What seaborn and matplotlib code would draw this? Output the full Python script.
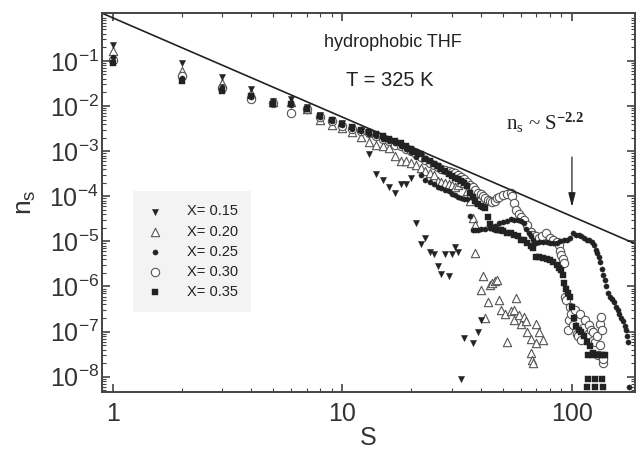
import numpy as np
import pandas as pd
import matplotlib
matplotlib.use("Agg")
import matplotlib.pyplot as plt
from matplotlib.ticker import FixedLocator, LogLocator, LogFormatterSciNotation, NullFormatter
import seaborn as sns

# ---------------- data ----------------
S15 = [1, 2, 3, 4, 5, 6, 7, 8, 9, 10, 11, 12, 13, 14, 15, 16, 17, 18, 19, 20,
       21, 22, 23, 24, 25, 26, 27, 28, 29, 30, 31, 32, 33, 34, 37, 39, 40]
n15 = [0.23, 0.09, 0.044, 0.024, 0.013, 0.014, 0.0095, 0.0062, 0.0049, 0.0041,
       0.0033, 0.0028, 8.5e-4, 3.1e-4, 2.3e-4, 1.6e-4, 1.2e-4, 1.9e-4, 1.9e-4, 2.6e-4,
       2.5e-5, 8.7e-6, 1.2e-5, 5.9e-6, 5.2e-6, 2.8e-6, 1.9e-6, 5.3e-6, 1.7e-6, 5.2e-6,
       7.4e-6, 5.9e-6, 9e-9, 7.3e-8, 5.5e-8, 1.0e-7, 1.8e-7]

S20 = [1, 2, 3, 4, 5, 6, 7, 8, 9, 10, 11, 12, 13, 14, 15, 16, 17, 18, 19, 20,
       21, 22, 23, 24, 25, 26, 27, 28, 29, 30, 31, 32, 33, 34, 35, 36, 37, 38, 38, 40,
       41, 42, 43, 44, 45, 46, 47, 48, 49, 51, 52, 54, 56, 56, 57, 59, 60, 62, 63, 64,
       66, 66, 67, 68, 70, 70, 72, 75]
n20 = [0.17, 0.06, 0.033, 0.019, 0.012, 0.012, 0.0088, 0.0050, 0.0038, 0.0032,
       0.0027, 0.0021, 0.0016, 0.0014, 0.0013, 0.0012, 8.0e-4, 6.2e-4, 6.0e-4, 5.5e-4,
       5.0e-4, 4.2e-4, 3.7e-4, 3.3e-4, 3.0e-4, 2.2e-4, 2.1e-4, 2.0e-4, 1.9e-4, 1.8e-4,
       1.6e-4, 1.8e-4, 2.1e-4, 2.0e-4, 1.3e-4, 8.0e-5, 3.3e-5, 2.3e-5, 5.5e-6, 8.3e-7,
       1.7e-6, 2.0e-7, 4.6e-7, 1.1e-6, 1.2e-6, 1.3e-6, 1.4e-6, 4.9e-7, 3.0e-7, 2.5e-7,
       6.0e-8, 2.8e-7, 3.0e-7, 1.8e-7, 5.6e-7, 2.3e-7, 1.5e-7, 2.1e-7, 1.7e-7, 1.0e-7,
       7.0e-8, 3.3e-8, 2.3e-8, 2.0e-8, 1.5e-7, 5.6e-8, 1.0e-7, 6.5e-8]

S25 = [1, 2, 3, 4, 5, 6, 7, 8, 9, 10, 11, 12, 13, 14, 15, 16, 17, 18, 19, 20,
       21, 22, 23, 24, 25, 26, 27, 28, 29, 30, 31, 32, 33, 34, 35, 36, 37, 38, 39, 40,
       42, 44, 46, 48, 50, 52, 54, 56, 58, 60, 62, 63, 65, 66, 68, 70, 72, 75, 78, 80,
       83, 86, 89, 92, 95, 98, 101, 104, 107, 110, 113, 116, 119, 122, 125, 127, 129, 131, 133, 135,
       137, 139, 141, 143, 146, 149, 152, 155, 158, 161, 164, 167, 170, 172, 174, 176, 178]
n25 = [0.12, 0.042, 0.026, 0.016, 0.0115, 0.0105, 0.0085, 0.0056, 0.0046, 0.0038,
       0.0031, 0.0028, 0.0024, 0.0022, 0.0019, 0.0017, 0.0015, 0.0013, 0.0011, 9.5e-4,
       7.5e-4, 3.0e-4, 2.3e-4, 2.1e-4, 1.9e-4, 1.6e-4, 1.5e-4, 1.4e-4, 1.3e-4, 1.1e-4,
       1.05e-4, 9.6e-5, 9.2e-5, 8.8e-5, 8.6e-5, 3.6e-5, 1.8e-5, 1.8e-5, 1.8e-5, 1.9e-5,
       1.9e-5, 2.0e-5, 2.2e-5, 2.5e-5, 2.7e-5, 2.9e-5, 3.1e-5, 3.0e-5, 3.0e-5, 2.9e-5,
       2.6e-5, 1.9e-5, 1.5e-5, 1.3e-5, 1.1e-5, 9.3e-6, 9.7e-6, 9.8e-6, 9.5e-6, 9.0e-6,
       9.2e-6, 9.3e-6, 1.0e-5, 1.07e-5, 1.1e-5, 1.2e-5, 1.5e-5, 1.4e-5, 1.4e-5, 1.3e-5,
       1.2e-5, 1.1e-5, 1.05e-5, 9.8e-6, 8.5e-6, 6.5e-6, 5.5e-6, 4.6e-6, 3.5e-6, 2.5e-6,
       1.8e-6, 1.4e-6, 1.05e-6, 7.0e-7, 6.0e-7, 5.2e-7, 4.5e-7, 3.5e-7, 3.0e-7, 2.5e-7,
       2.0e-7, 1.7e-7, 1.3e-7, 1.1e-7, 8.0e-8, 6.0e-8, 6.0e-9]

S30 = [1, 2, 3, 4, 5, 6, 7, 8, 9, 10, 11, 12, 13, 14, 15, 16, 17, 18, 19, 20,
       21, 22, 23, 24, 25, 26, 27, 28, 29, 30, 31, 32, 33, 34, 35, 36, 37, 38, 39, 40,
       41, 42, 43, 44, 45, 46, 47, 48, 50, 52, 54, 55, 56, 57, 59, 60, 62, 64, 66, 68,
       70, 72, 74, 77, 80, 83, 86, 88, 89, 90, 91, 92, 93, 94, 96, 97, 98, 99, 101, 103,
       105, 106, 108, 110, 112, 114, 117, 119, 121, 123, 126, 129, 130, 132, 133, 134, 135, 136, 137]
n30 = [0.105, 0.047, 0.025, 0.014, 0.0115, 0.0070, 0.0085, 0.0057, 0.0046, 0.0037,
       0.0031, 0.0028, 0.0025, 0.0022, 0.0019, 0.0017, 0.0014, 0.0013, 0.0011, 0.0010,
       8.5e-4, 7.5e-4, 6.5e-4, 5.5e-4, 5.0e-4, 4.5e-4, 4.0e-4, 3.8e-4, 3.6e-4, 3.4e-4,
       3.3e-4, 3.0e-4, 2.7e-4, 2.4e-4, 2.1e-4, 1.8e-4, 1.6e-4, 1.4e-4, 1.2e-4, 1.1e-4,
       1.0e-4, 9.0e-5, 8.2e-5, 7.8e-5, 7.6e-5, 8.0e-5, 9.0e-5, 9.8e-5, 1.05e-4, 1.1e-4,
       1.17e-4, 1.0e-4, 7.0e-5, 5.0e-5, 4.0e-5, 3.5e-5, 3.0e-5, 2.3e-5, 1.6e-5, 1.4e-5,
       1.3e-5, 1.2e-5, 1.3e-5, 1.5e-5, 1.2e-5, 1.07e-5, 9.5e-6, 8.3e-6, 6.0e-6, 5.0e-6,
       4.0e-6, 3.3e-6, 5.9e-7, 5.0e-7, 1.1e-7, 1.8e-7, 3.5e-7, 2.5e-7, 1.4e-7, 3.0e-7,
       9.0e-8, 7.8e-8, 2.5e-7, 6.5e-8, 1.2e-7, 1.8e-7, 9.0e-8, 1.4e-7, 1.1e-7, 1.0e-7,
       6.0e-8, 7.8e-8, 3.0e-8, 5.0e-8, 1.5e-7, 2.1e-7, 1.1e-7, 2.0e-8, 2.5e-8]

S35 = [1, 2, 3, 4, 5, 6, 7, 8, 9, 10, 11, 12, 13, 14, 15, 16, 17, 18, 19, 20,
       21, 22, 23, 24, 25, 26, 27, 28, 29, 30, 31, 32, 33, 34, 35, 36, 37, 38, 39, 40,
       41, 42, 43, 44, 45, 46, 47, 48, 49, 50, 52, 54, 56, 58, 60, 62, 64, 66, 68, 70,
       72, 75, 78, 80, 83, 86, 88, 90, 91, 92, 94, 96, 98, 100, 102, 104, 107, 110, 113, 116,
       120, 124, 118, 122, 128, 132, 136, 139, 117, 126, 135, 116, 126, 137]
n35 = [0.09, 0.036, 0.021, 0.017, 0.011, 0.011, 0.0088, 0.0060, 0.0048, 0.0040,
       0.0034, 0.0030, 0.0027, 0.0024, 0.0022, 0.0019, 0.0017, 0.0015, 0.00128, 0.00112,
       9.5e-4, 8.5e-4, 6.8e-4, 6.0e-4, 5.2e-4, 4.6e-4, 4.1e-4, 3.6e-4, 3.1e-4, 2.8e-4,
       2.6e-4, 2.4e-4, 2.2e-4, 2.0e-4, 1.7e-4, 1.2e-4, 9.5e-5, 8.0e-5, 6.9e-5, 6.2e-5,
       5.8e-5, 5.4e-5, 3.5e-5, 2.4e-5, 2.0e-5, 1.9e-5, 1.8e-5, 1.8e-5, 1.8e-5, 1.7e-5,
       1.5e-5, 1.5e-5, 1.4e-5, 1.3e-5, 1.1e-5, 1.07e-5, 9.0e-6, 8.0e-6, 7.0e-6, 4.6e-6,
       4.4e-6, 4.2e-6, 4.0e-6, 3.9e-6, 3.5e-6, 3.0e-6, 2.6e-6, 2.3e-6, 1.8e-6, 1.2e-6,
       9.0e-7, 7.0e-7, 5.9e-7, 3.5e-7, 2.0e-7, 1.3e-7, 1.1e-7, 1.0e-7, 7.8e-8, 6.0e-8,
       4.7e-8, 3.3e-8, 3.0e-8, 3.0e-8, 3.0e-8, 3.0e-8, 3.0e-8, 3.0e-8, 9e-9, 9e-9,
       9e-9, 5.9e-9, 5.9e-9, 5.9e-9]

series_labels = ["X= 0.15", "X= 0.20", "X= 0.25", "X= 0.30", "X= 0.35"]
line_exponent = -2.2
line_prefactor = 0.9
arrow_S = 100
x_ticks = [1, 10, 100]
x_ticklabels = ["1", "10", "100"]
y_ticks = [1e-8, 1e-7, 1e-6, 1e-5, 1e-4, 1e-3, 1e-2, 1e-1]

# ---------------- build table ----------------
frames = []
for lab, S, n in zip(series_labels, [S15, S20, S25, S30, S35], [n15, n20, n25, n30, n35]):
    frames.append(pd.DataFrame({"S": S, "n": n, "X": lab}))
df = pd.concat(frames, ignore_index=True)

# ---------------- style ----------------
sns.set_theme(style="ticks")
plt.rcParams['font.family'] = ['Liberation Sans', 'DejaVu Sans']
plt.rcParams['mathtext.fontset'] = 'custom'
plt.rcParams['mathtext.rm'] = 'Liberation Serif'
plt.rcParams['mathtext.it'] = 'Liberation Serif:italic'
plt.rcParams['mathtext.bf'] = 'Liberation Serif:bold'
plt.rcParams['axes.edgecolor'] = '#444444'
plt.rcParams['axes.linewidth'] = 1.4

fig, ax = plt.subplots(figsize=(6.4, 4.5), dpi=100)
fig.subplots_adjust(left=0.159, right=0.992, bottom=0.129, top=0.971)

dark = '#222222'
styles = {
    "X= 0.15": dict(marker='v', s=20, color=dark, edgecolor=dark, linewidth=0.3),
    "X= 0.20": dict(marker='^', s=36, facecolor='white', edgecolor='#555555', linewidth=0.8),
    "X= 0.25": dict(marker='o', s=14, color=dark, edgecolor=dark, linewidth=0.3),
    "X= 0.30": dict(marker='o', s=36, facecolor='white', edgecolor='#555555', linewidth=0.8),
    "X= 0.35": dict(marker='s', s=13, color=dark, edgecolor=dark, linewidth=0.3),
}
draw_order = ["X= 0.20", "X= 0.30", "X= 0.15", "X= 0.25", "X= 0.35"]
handles = {}
for lab in draw_order:
    sub = df[df["X"] == lab]
    sns.scatterplot(data=sub, x="S", y="n", ax=ax, legend=False, **styles[lab])
    handles[lab] = ax.collections[-1]

ax.set_xscale('log')
ax.set_yscale('log')
ax.set_xlim(0.895, 188)
ax.set_ylim(4.6e-9, 1.15)

# power law n_s ~ S^-2.2
S_line = np.array(ax.get_xlim())
ax.plot(S_line, line_prefactor * S_line ** line_exponent, color='#222222', lw=1.2, zorder=1)

# arrow
ax.annotate('', xy=(arrow_S, 5.8e-5), xytext=(arrow_S, 7.4e-4),
            arrowprops=dict(arrowstyle='-|>,head_length=0.7,head_width=0.18',
                            color='#222222', lw=0.9, shrinkA=0, shrinkB=0))
ax.text(0.758, 0.692, r'$\mathdefault{n_s}$ ~ $\mathdefault{S}^{\mathbf{-2.2}}$',
        transform=ax.transAxes, family=['Liberation Serif'], fontsize=15,
        color='#222222', ha='left', va='baseline')

ax.text(0.546, 0.923, 'hydrophobic THF', transform=ax.transAxes, ha='center', va='center',
        fontsize=13, color='#222222')
ax.text(0.540, 0.823, 'T = 325 K', transform=ax.transAxes, ha='center', va='center',
        fontsize=14.5, color='#222222')

# ticks
ax.xaxis.set_major_locator(FixedLocator(x_ticks))
ax.set_xticklabels(x_ticklabels)
ax.xaxis.set_minor_locator(LogLocator(base=10, subs=np.arange(2, 10), numticks=100))
ax.xaxis.set_minor_formatter(NullFormatter())
ax.yaxis.set_major_locator(FixedLocator(y_ticks))
ax.yaxis.set_major_formatter(LogFormatterSciNotation())
ax.yaxis.set_minor_locator(LogLocator(base=10, subs=np.arange(2, 10), numticks=100))
ax.yaxis.set_minor_formatter(NullFormatter())
ax.tick_params(which='both', direction='in', top=True, right=True, colors='#444444',
               labelcolor='#333333')
ax.tick_params(which='major', length=6, width=1.2, labelsize=18)
ax.tick_params(axis='x', which='major', pad=7)
ax.tick_params(axis='y', which='major', pad=2)
ax.tick_params(which='minor', length=3, width=0.8)

ax.set_xlabel('S', fontsize=18, color='#333333', labelpad=0)
ax.set_ylabel(r'$\mathdefault{n_s}$', family=['Liberation Sans'], fontsize=19,
              color='#333333', labelpad=8)

leg = ax.legend([handles[l] for l in series_labels], series_labels,
                loc='lower left', bbox_to_anchor=(0.058, 0.211), borderaxespad=0,
                frameon=True, facecolor='#f3f3f3', edgecolor='none', framealpha=1,
                fontsize=10.5, labelspacing=0.42, handletextpad=1.6, borderpad=0.9,
                handlelength=1.2, fancybox=False)
for t in leg.get_texts():
    t.set_color('#222222')

fig.savefig('out.png', dpi=100)
